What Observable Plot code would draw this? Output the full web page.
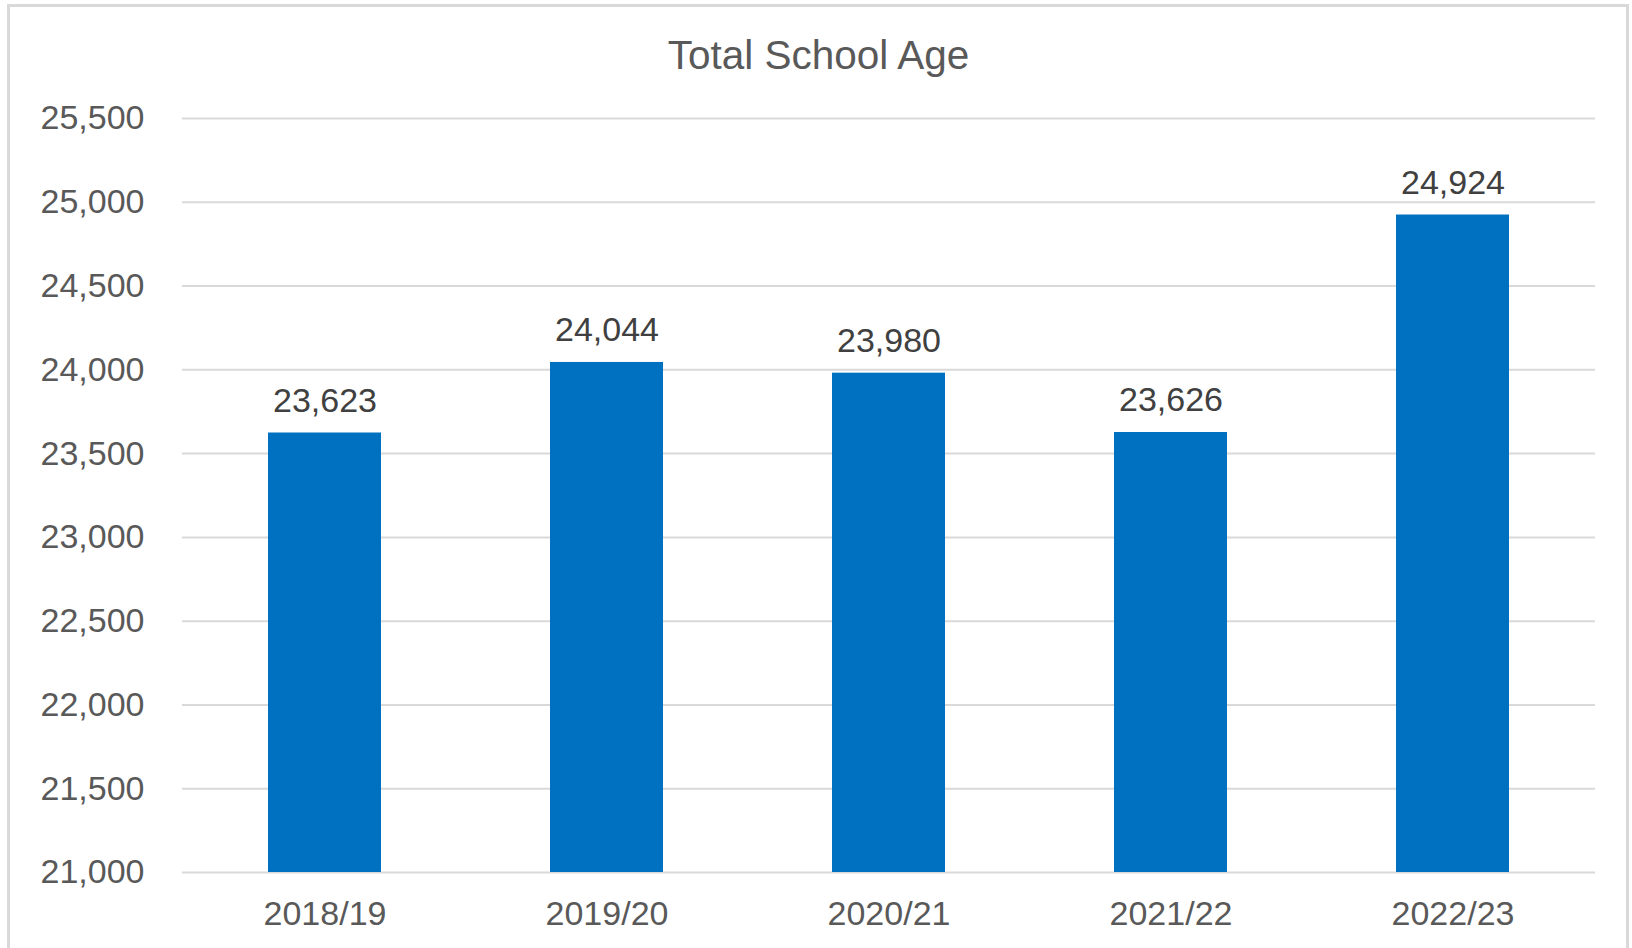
<!DOCTYPE html>
<html>
<head>
<meta charset="utf-8">
<script src="https://cdn.jsdelivr.net/npm/d3@7"></script>
<script src="https://cdn.jsdelivr.net/npm/@observablehq/plot@0.6"></script>
<style>
  html, body { margin: 0; padding: 0; background: #fff; }
  #wrap { position: relative; width: 1632px; height: 948px; overflow: hidden; font-family: "Liberation Sans", Arial, sans-serif; }
  #frame { position: absolute; left: 7px; top: 4px; width: 1622px; height: 980px; border: 3px solid #d9d9d9; box-sizing: border-box; }
  #title { position: absolute; left: 8px; width: 1621px; top: 35px; text-align: center; font-size: 40.5px; line-height: 40px; color: #595959; }
  #chart { position: absolute; left: 0; top: 0; }
</style>
</head>
<body>
<div id="wrap">
  <div id="frame"></div>
  <div id="title">Total School Age</div>
  <div id="chart"></div>
</div>
<script>
const years = ["2018/19", "2019/20", "2020/21", "2021/22", "2022/23"];
const totals = [23623, 24044, 23980, 23626, 24924];
const yTicks = [21000, 21500, 22000, 22500, 23000, 23500, 24000, 24500, 25000, 25500];

const data = years.map((year, i) => ({year, total: totals[i]}));
const fmt = d3.format(",");

const chart = Plot.plot({
  width: 1632,
  height: 948,
  marginLeft: 182,
  marginRight: 37,
  marginTop: 118,
  marginBottom: 76,
  style: {fontFamily: '"Liberation Sans", Arial, sans-serif', background: "transparent", overflow: "visible"},
  x: {domain: years, paddingInner: 0.6, paddingOuter: 0.3, label: null},
  y: {domain: [21000, 25500], label: null},
  marks: [
    Plot.gridY(yTicks, {stroke: "#d9d9d9", strokeOpacity: 1, strokeWidth: 2}),
    Plot.barY(data, {x: "year", y1: 21000, y2: "total", fill: "#0070c0"}),
    Plot.text(data, {x: "year", y: "total", text: d => fmt(d.total), lineAnchor: "bottom", dy: -21, fontSize: 34, fill: "#404040"}),
    Plot.axisY(yTicks, {tickSize: 0, tickPadding: 38, tickFormat: fmt, fontSize: 34, fill: "#595959", label: null}),
    Plot.axisX({tickSize: 0, tickPadding: 28, fontSize: 34, fill: "#595959", label: null})
  ]
});
document.getElementById("chart").appendChild(chart);
</script>
</body>
</html>
